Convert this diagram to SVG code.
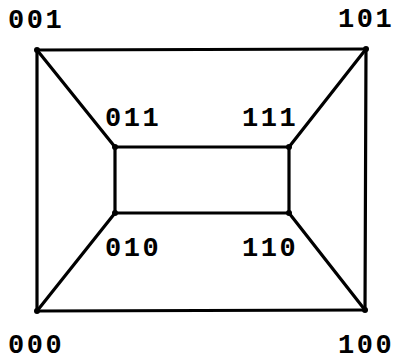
<svg xmlns="http://www.w3.org/2000/svg" width="397" height="360" viewBox="0 0 397 360">
<style>
.e{stroke:#000;stroke-width:3.2;fill:none;stroke-linecap:round}
.v{fill:#000}
text{font-family:"Liberation Mono","Courier New",monospace;font-weight:bold;font-size:27px;letter-spacing:2.5px;fill:#000}
</style>
<rect width="397" height="360" fill="#fff"/>
<g id="connectors">
<line class="e" x1="37" y1="50" x2="366" y2="49"/>
<line class="e" x1="37" y1="50" x2="37" y2="311"/>
<line class="e" x1="366" y1="49" x2="365" y2="310"/>
<line class="e" x1="37" y1="311" x2="365" y2="310"/>
<line class="e" x1="115" y1="147" x2="289" y2="147"/>
<line class="e" x1="115" y1="147" x2="115" y2="213"/>
<line class="e" x1="289" y1="147" x2="289" y2="213"/>
<line class="e" x1="115" y1="213" x2="289" y2="213"/>
<line class="e" x1="37" y1="50" x2="115" y2="147"/>
<line class="e" x1="366" y1="49" x2="289" y2="147"/>
<line class="e" x1="37" y1="311" x2="115" y2="213"/>
<line class="e" x1="365" y1="310" x2="289" y2="213"/>
</g>
<g id="n001"><circle class="v" cx="37" cy="50" r="3"/><text x="8" y="28">001</text></g>
<g id="n101"><circle class="v" cx="366" cy="49" r="3"/><text x="338" y="27">101</text></g>
<g id="n011"><circle class="v" cx="115" cy="147" r="3"/><text x="105" y="126">011</text></g>
<g id="n111"><circle class="v" cx="289" cy="147" r="3"/><text x="242" y="126">111</text></g>
<g id="n010"><circle class="v" cx="115" cy="213" r="3"/><text x="105" y="256">010</text></g>
<g id="n110"><circle class="v" cx="289" cy="213" r="3"/><text x="242" y="256">110</text></g>
<g id="n000"><circle class="v" cx="37" cy="311" r="3"/><text x="8" y="353">000</text></g>
<g id="n100"><circle class="v" cx="365" cy="310" r="3"/><text x="338" y="353">100</text></g>
</svg>
